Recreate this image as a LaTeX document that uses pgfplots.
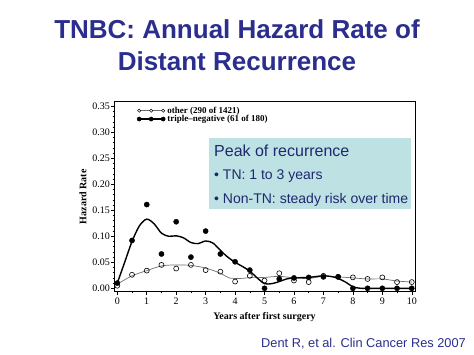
\documentclass[border=0pt]{standalone}
\usepackage{pgfplots}
\pgfplotsset{compat=1.18}
\usepackage{fontspec}
\setmainfont{Liberation Serif}
\newfontfamily\arial{Liberation Sans}
\definecolor{titleblue}{RGB}{43,46,140}
\definecolor{boxfill}{RGB}{190,226,228}
\definecolor{boxtext}{RGB}{30,40,110}
\definecolor{othergray}{RGB}{110,110,110}

\pgfplotstableread{
x y
0 0.005
0.5 0.026
1 0.034
1.5 0.045
2 0.038
2.5 0.045
3 0.035
3.5 0.032
4 0.013
4.5 0.024
5 0.015
5.5 0.029
6 0.015
6.5 0.012
7 0.024
7.5 0.022
8 0.021
8.5 0.018
9 0.021
9.5 0.012
10 0.012
}\otherpts

\pgfplotstableread{
x y
0 0.010
0.5 0.092
1 0.161
1.5 0.066
2 0.128
2.5 0.060
3 0.110
3.5 0.066
4 0.051
4.5 0.035
5 0.000
5.5 0.018
6 0.020
6.5 0.021
7 0.022
7.5 0.022
8 0.000
8.5 0.000
9 0.000
9.5 0.000
10 0.000
}\tnpts

\pgfplotstableread{
x y
0 0.008
0.5 0.024
1 0.034
1.5 0.043
2 0.045
2.5 0.044
3 0.039
3.5 0.029
3.8 0.020
4.2 0.019
4.6 0.021
5 0.021
5.5 0.023
6 0.020
6.5 0.019
7 0.023
7.5 0.022
8 0.020
8.5 0.018
9 0.018
9.5 0.014
10 0.012
}\othercurve

\pgfplotstableread{
x y
0 0.010
0.25 0.050
0.5 0.090
0.75 0.120
1 0.133
1.25 0.124
1.5 0.106
1.75 0.100
2 0.101
2.25 0.097
2.5 0.088
2.75 0.086
3 0.091
3.25 0.087
3.5 0.073
3.75 0.060
4 0.050
4.25 0.042
4.5 0.033
4.75 0.020
5 0.009
5.25 0.009
5.5 0.013
5.75 0.018
6 0.020
6.5 0.021
7 0.024
7.4 0.021
7.75 0.012
8 0.003
8.3 0.000
9 0.000
10 0.000
}\tncurve

\begin{document}
\begin{tikzpicture}[x=1pt,y=1pt]
\useasboundingbox (0,0) rectangle (474,355);
\node[anchor=base, font=\arial\bfseries\fontsize{26}{30}\selectfont, text=titleblue, inner sep=0] at (237,316) {TNBC: Annual Hazard Rate of};
\node[anchor=base, font=\arial\bfseries\fontsize{26}{30}\selectfont, text=titleblue, inner sep=0] at (237,284) {Distant Recurrence};
\node[anchor=base west, font=\arial\fontsize{12.8}{15}\selectfont, text=titleblue, inner sep=0] at (261,7) {Dent R, et al. Clin Cancer Res 2007};

\begin{axis}[
  at={(114pt,63.3pt)}, anchor=south west,
  scale only axis, width=301pt, height=190pt,
  xmin=-0.112, xmax=10.11, ymin=-0.0065, ymax=0.3588,
  xtick={0,1,...,10}, minor x tick num=1,
  ytick={0,0.05,...,0.35}, minor y tick num=4,
  xtick pos=bottom, ytick pos=left, tick align=outside,
  major tick length=3pt, minor tick length=1.5pt,
  tick style={black, line width=0.5pt},
  axis line style={line width=0.9pt},
  /pgf/number format/assume math mode=true,
  yticklabel style={/pgf/number format/fixed, /pgf/number format/fixed zerofill, /pgf/number format/precision=2, font=\fontsize{10}{11}\selectfont, inner sep=1pt},
  xticklabel style={font=\fontsize{10}{11}\selectfont},
  scaled y ticks=false,
  xlabel={Years after first surgery},
  ylabel={Hazard Rate},
  xlabel style={at={(axis description cs:0.5,-0.144)}, anchor=base, font=\bfseries\fontsize{10}{11}\selectfont},
  ylabel style={at={(axis description cs:-0.103,0.5)}, anchor=center, font=\bfseries\fontsize{10}{11}\selectfont},
  legend style={draw=none, fill=none, at={(axis description cs:0.072,0.99)}, anchor=north west, font=\bfseries\fontsize{9}{10}\selectfont, row sep=-3.5pt, inner sep=1pt},
  legend cell align=left,
  clip=false,
]
\addlegendimage{legend image code/.code={\draw[othergray, line width=0.5pt] (0pt,0pt) -- (24pt,0pt); \foreach \xx in {0,12,24} {\draw[black, fill=white, line width=0.5pt] (\xx pt,0pt) circle (1.6pt);}}}
\addlegendentry{other (290 of 1421)}
\addlegendimage{legend image code/.code={\draw[black, line width=1.4pt] (0pt,0pt) -- (24pt,0pt); \foreach \xx in {0,12,24} {\fill[black] (\xx pt,0pt) circle (2.1pt);}}}
\addlegendentry{triple--negative (61 of 180)}

\addplot[othergray, line width=0.7pt, smooth, tension=0.5, forget plot] table {\othercurve};
\addplot[black, line width=1.4pt, smooth, tension=0.5, forget plot] table {\tncurve};
\addplot[only marks, mark=o, mark size=2.5pt, mark options={black, fill=white, line width=0.6pt}, forget plot] table {\otherpts};
\addplot[only marks, mark=*, mark size=2.6pt, mark options={black, fill=black}, forget plot] table {\tnpts};
\end{axis}

\fill[boxfill] (209,146) rectangle (411,217);
\node[anchor=base west, font=\arial\fontsize{16}{18}\selectfont, text=boxtext, inner sep=0] at (214,198.3) {Peak of recurrence};
\node[anchor=base west, font=\arial\fontsize{14}{16}\selectfont, text=boxtext, inner sep=0] at (214,175) {\textbullet\ TN: 1 to 3 years};
\node[anchor=base west, font=\arial\fontsize{14}{16}\selectfont, text=boxtext, inner sep=0] at (214,151) {\textbullet\ Non-TN: steady risk over time};
\end{tikzpicture}
\end{document}
